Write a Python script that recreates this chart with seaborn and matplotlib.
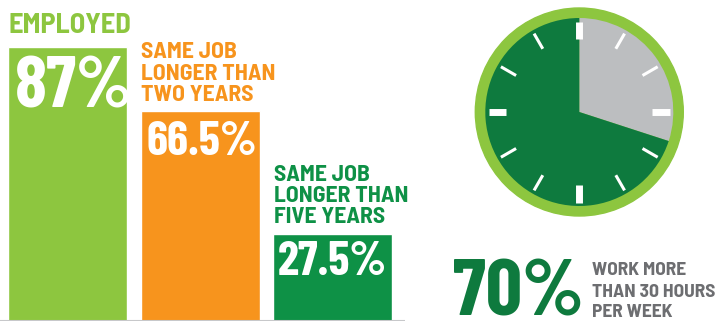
import matplotlib
matplotlib.use("Agg")
import matplotlib.pyplot as plt
from matplotlib.patches import Circle
import numpy as np
import pandas as pd
import seaborn as sns

# ---- data ----
categories = ["Employed", "Same job > 2 years", "Same job > 5 years"]
values = [87, 66.5, 27.5]
value_labels = ["87%", "66.5%", "27.5%"]
captions = [["EMPLOYED"],
            ["SAME JOB", "LONGER THAN", "TWO YEARS"],
            ["SAME JOB", "LONGER THAN", "FIVE YEARS"]]
bar_colors = ["#8dc63f", "#f7941d", "#0e9146"]

hours_share = [70, 30]          # work > 30 h/week, rest
hours_label = "70%"
hours_caption = ["WORK MORE", "THAN 30 HOURS", "PER WEEK"]

sns.set_theme(style="white")
FONT = ["Barlow Condensed", "DejaVu Sans"]
CAPFONT = ["Barlow Semi Condensed", "Barlow Condensed", "DejaVu Sans"]
plt.rcParams["font.family"] = FONT

W, H = 721, 322
fig = plt.figure(figsize=(W / 100, H / 100), dpi=100)

def px(x, y):
    return x / W, 1 - y / H

# ---- bar chart ----
ax = fig.add_axes([0, 1.5 / H, 405 / W, (H - 1.5) / H])
df = pd.DataFrame({"cat": categories, "val": values})
sns.barplot(data=df, x="cat", y="val", hue="cat", palette=bar_colors,
            legend=False, width=0.9, saturation=1, ax=ax)
spacing = 132.5
ax.set_xlim(-67.7 / spacing, -67.7 / spacing + 405 / spacing)
ax.set_ylim(0, (H - 1.5) / 3.149)
ax.axis("off")
ax.axhline(0, color="#c7c8ca", lw=1.5, xmax=1)

# captions above bars and values in bars
cap_pos = [(8, [33]), (141, [58.3, 79.8, 100.8]), (274, [181, 202, 223])]
val_pos = [(15, 108, 52.5), (146, 155, 34.5), (278, 275, 34.5)]
for i in range(3):
    x0, ys = cap_pos[i]
    size = 20.5 if i == 0 else 17
    for line, yb in zip(captions[i], ys):
        fig.text(*px(x0, yb), line, color=bar_colors[i], fontsize=size,
                 fontweight="bold", va="baseline", ha="left", family=CAPFONT)
    vx, vy, vs = val_pos[i]
    fig.text(*px(vx, vy), value_labels[i], color="white", fontsize=vs,
             fontweight="bold", va="baseline", ha="left")

# ---- clock ----
cx, cy, R = 579.3, 112, 110
cax = fig.add_axes([(cx - R) / W, 1 - (cy + R) / H, 2 * R / W, 2 * R / H])
cax.add_patch(Circle((0, 0), 104, color="#8dc63f", zorder=0))
cax.pie([hours_share[1], hours_share[0]], colors=["#bcbec0", "#0e7a3e"],
        startangle=90, counterclock=False, radius=94,
        wedgeprops=dict(linewidth=0))
for h in range(12):
    a = np.pi / 2 - h * np.pi / 6
    r0, r1 = 73, 90.5
    lw = 5.0 if h % 3 == 0 else 2.2
    cax.plot([r0 * np.cos(a), r1 * np.cos(a)], [r0 * np.sin(a), r1 * np.sin(a)],
             color="white", lw=lw, solid_capstyle="butt", zorder=5)
cax.set_xlim(-R, R)
cax.set_ylim(-R, R)
cax.set_aspect("equal")
cax.axis("off")

fig.text(*px(453, 315), hours_label, color="#0e7a3e", fontsize=58,
         fontweight="bold", va="baseline", ha="left")
for line, yb in zip(hours_caption, [275, 296.7, 317.3]):
    fig.text(*px(592, yb), line, color="#6d6e71", fontsize=14,
             fontweight="bold", va="baseline", ha="left", family=CAPFONT)

fig.savefig("out.png", dpi=100)
